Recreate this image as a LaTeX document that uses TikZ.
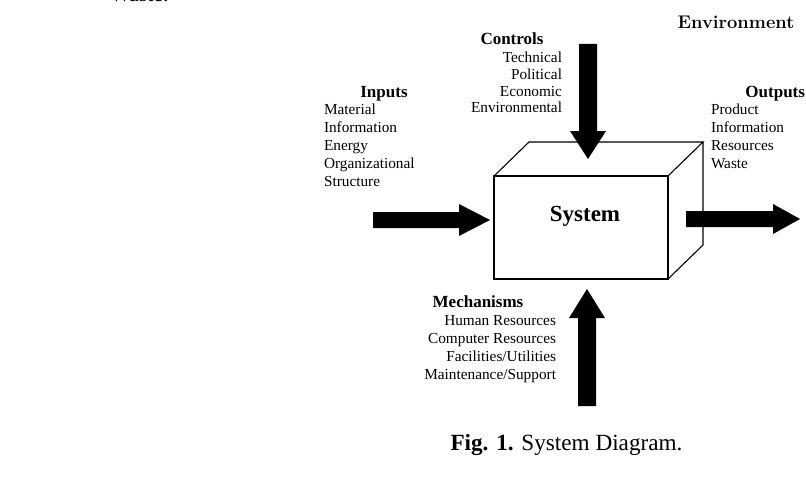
\documentclass[tikz,border=0pt]{standalone}
\usepackage{fontspec}
\newfontfamily\tnr{Liberation Serif}
\begin{document}
\begin{tikzpicture}[x=1pt,y=-1pt,
  every node/.style={inner sep=0pt,outer sep=0pt},
  hdr/.style={font=\tnr\bfseries\fontsize{17}{19}\selectfont},
  lst/.style={font=\tnr\fontsize{15.3}{18}\selectfont},
  lstc/.style={font=\tnr\fontsize{15.3}{17}\selectfont},
  fatarrow/.style={fill=black},
  boxline/.style={draw=black,line width=1.1pt,line join=miter}]
\useasboundingbox (0,0) rectangle (806,495);

% cut-off text at the top
\node[anchor=base west,font=\tnr\fontsize{22}{24}\selectfont] (waste0) at (110,1.6) {Waste.};

% Environment
\node[anchor=base,font=\bfseries\fontsize{18.3}{20}\selectfont\addfontfeature{FakeBold=1.2}] (env) at (736,29) {Environment};

% system box
\coordinate (fnw) at (494,176);
\coordinate (fne) at (668,176);
\coordinate (fse) at (668,279);
\coordinate (fsw) at (494,279);
\coordinate (bnw) at (529,142);
\coordinate (bne) at (703,142);
\coordinate (bse) at (703,245);
\draw[boxline] (fnw) rectangle (fse);
\draw[boxline] (fnw) -- (bnw) -- (bne) -- (fne);
\draw[boxline] (bne) -- (bse) -- (fse);
\node[anchor=base,font=\tnr\bfseries\fontsize{23}{25}\selectfont] (sys) at (585,221) {System};

% Controls
\node[hdr,anchor=base] (ctrh) at (512,45) {Controls};
\node[lstc,align=right,anchor=base east] (ctrl) at (562,113) {Technical\\Political\\Economic\\Environmental};

% Inputs
\node[hdr,anchor=base] (inph) at (384,97) {Inputs};
\node[lst,align=left,anchor=base west] (inpl) at (324,186) {Material\\Information\\Energy\\Organizational\\Structure};

% Outputs
\node[hdr,anchor=base east] (outh) at (805,97) {Outputs};
\node[lst,align=left,anchor=base west] (outl) at (711,168) {Product\\Information\\Resources\\Waste};

% Mechanisms
\node[hdr,anchor=base] (mech) at (478,307) {Mechanisms};
\node[lst,align=right,anchor=base east] (mecl) at (556,379) {Human Resources\\Computer Resources\\Facilities/Utilities\\Maintenance/Support};

% arrows
\fill[fatarrow] (579,44) -- (597,44) -- (597,131) -- (606,131) -- (588,159) -- (570,131) -- (579,131) -- cycle;
\fill[fatarrow] (578,406) -- (596,406) -- (596,318) -- (605,318) -- (587,289) -- (569,318) -- (578,318) -- cycle;
\fill[fatarrow] (373,212) -- (459,212) -- (459,204) -- (490,220) -- (459,236) -- (459,228) -- (373,228) -- cycle;
\fill[fatarrow] (686,211) -- (773,211) -- (773,204) -- (800,219) -- (773,234) -- (773,227) -- (686,227) -- cycle;

% caption
\node[anchor=base,font=\tnr\fontsize{23.2}{25}\selectfont] (cap) at (566.5,450) {\textbf{Fig. 1.} System Diagram.};
\end{tikzpicture}
\end{document}
